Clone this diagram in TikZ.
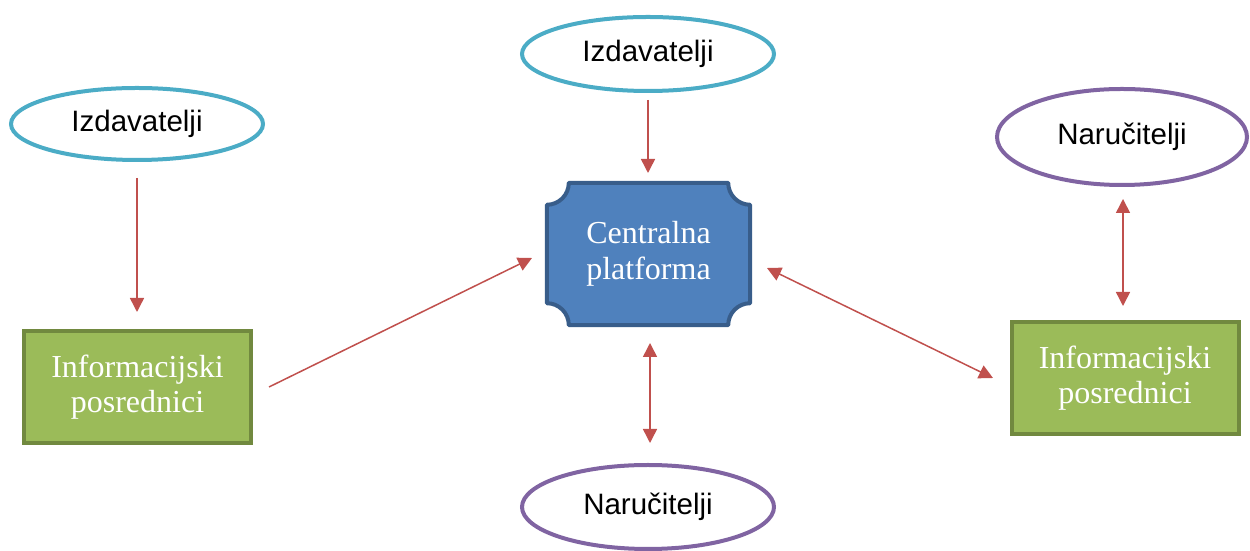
\documentclass[tikz,border=0pt]{standalone}
\usepackage{fontspec}
\setmainfont{Liberation Serif}
\newfontfamily\arialf{Liberation Sans}
\usetikzlibrary{arrows.meta}
\definecolor{tealc}{HTML}{4BACC6}
\definecolor{purc}{HTML}{8064A2}
\definecolor{bluef}{HTML}{4F81BD}
\definecolor{blued}{HTML}{385D8A}
\definecolor{greenf}{HTML}{9BBB59}
\definecolor{greend}{HTML}{71893F}
\definecolor{redc}{HTML}{C0504D}
\tikzset{
  ell/.style={ellipse, line width=4pt, fill=white, inner sep=0pt, font=\arialf\fontsize{29.5}{34}\selectfont},
  gbox/.style={draw=greend, fill=greenf, line width=4pt, minimum width=227pt, minimum height=112pt, align=center, text=white, font=\fontsize{32}{35.5}\selectfont},
  arr/.style={draw=redc, line width=1.5pt, -{Triangle[width=14pt,length=14pt]}},
  darr/.style={draw=redc, line width=1.5pt, {Triangle[width=14pt,length=14pt]}-{Triangle[width=14pt,length=14pt]}}
}
\usetikzlibrary{shapes.geometric}
\begin{document}
\begin{tikzpicture}[x=1pt,y=1pt]
\useasboundingbox (0,0) rectangle (1250,551);
% ellipses
\node[ell, draw=tealc, minimum width=252pt, minimum height=74pt] (topIz) at (648,497) {Izdavatelji};
\node[ell, draw=tealc, minimum width=252pt, minimum height=72pt] (leftIz) at (137,427) {Izdavatelji};
\node[ell, draw=purc, minimum width=250pt, minimum height=96pt] (rightNa) at (1122,414) {Naručitelji};
\node[ell, draw=purc, minimum width=252pt, minimum height=84pt] (botNa) at (648,44) {Naručitelji};
% central plaque
\node[minimum width=203pt, minimum height=142pt, inner sep=0pt] (plat) at (648.5,297) {};
\def\pr{22}
\draw[draw=blued, fill=bluef, line width=4pt, line join=round]
  ([xshift=\pr pt]plat.north west) -- ([xshift=-\pr pt]plat.north east)
  arc[start angle=180, end angle=270, radius=\pr pt]
  -- ([yshift=\pr pt]plat.south east)
  arc[start angle=90, end angle=180, radius=\pr pt]
  -- ([xshift=\pr pt]plat.south west)
  arc[start angle=0, end angle=90, radius=\pr pt]
  -- ([yshift=-\pr pt]plat.north west)
  arc[start angle=270, end angle=360, radius=\pr pt] -- cycle;
\node[align=center, text=white, font=\fontsize{32}{35.5}\selectfont] (plattxt) at (plat.center) {Centralna\\platforma};
% boxes
\node[gbox] (lbox) at (137.5,164) {Informacijski\\posrednici};
\node[gbox] (rbox) at (1125,173) {Informacijski\\posrednici};
% arrow end points
\coordinate (a1s) at (648,451);
\coordinate (a1e) at (648,378);
\coordinate (a2s) at (137,373);
\coordinate (a2e) at (137,239);
\coordinate (a3s) at (269,164);
\coordinate (a3e) at (532,293);
\coordinate (a4s) at (650,208);
\coordinate (a4e) at (650,108);
\coordinate (a5s) at (767,283);
\coordinate (a5e) at (993,173);
\coordinate (a6s) at (1123,352);
\coordinate (a6e) at (1123,245);
\draw[arr] (a1s) -- (a1e);
\draw[arr] (a2s) -- (a2e);
\draw[arr] (a3s) -- (a3e);
\draw[darr] (a4s) -- (a4e);
\draw[darr] (a5s) -- (a5e);
\draw[darr] (a6s) -- (a6e);
\end{tikzpicture}
\end{document}
